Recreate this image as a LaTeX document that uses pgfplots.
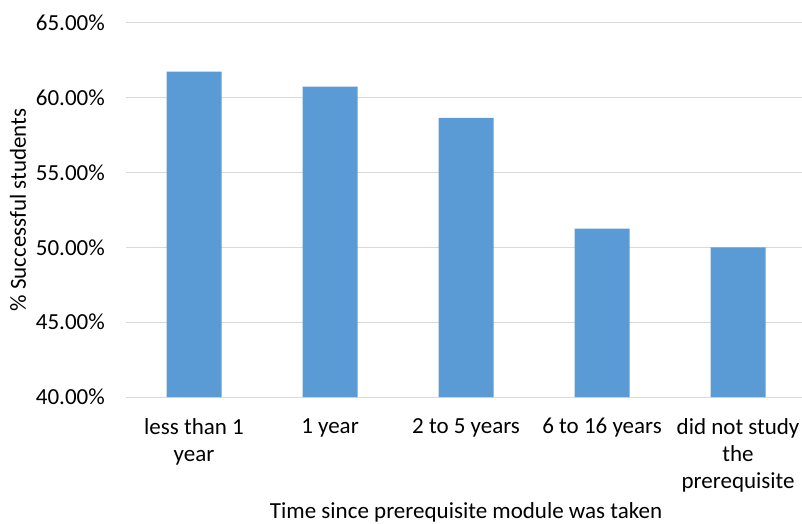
\documentclass[border=0pt]{standalone}
\usepackage{pgfplots}
\pgfplotsset{compat=1.18}
\usepackage{fontspec}
\setmainfont{Carlito}
\definecolor{barblue}{HTML}{5B9BD5}
\definecolor{gridgray}{HTML}{D9D9D9}
\begin{document}
\begin{tikzpicture}
\begin{axis}[
  scale only axis,
  width=676bp, height=374bp,
  xmin=-0.5, xmax=4.47,
  ymin=40, ymax=65,
  ytick={40,45,50,55,60,65},
  yticklabels={40.00\%,45.00\%,50.00\%,55.00\%,60.00\%,65.00\%},
  xtick={0,1,2,3,4},
  xticklabels={{less than 1\\year},{1 year},{2 to 5 years},{6 to 16 years},{did not study\\the\\prerequisite}},
  axis y line*=left,
  y axis line style={draw=none},
  axis x line*=bottom,
  x axis line style={draw=gridgray, line width=1bp},
  axis line style={-},
  ymajorgrids,
  grid style={draw=gridgray, line width=1bp},
  major tick length=0pt,
  tick style={draw=none},
  font=\fontsize{23bp}{27bp}\selectfont,
  yticklabel style={anchor=east, inner sep=0pt, xshift=-21bp},
  xticklabel style={align=center, anchor=north, inner sep=0pt, yshift=-21bp},
  ylabel={\% Successful students},
  ylabel style={at={([xshift=-108bp]axis description cs:0,0.5)}, anchor=center},
  xlabel={Time since prerequisite module was taken},
  xlabel style={at={(axis cs:2,40)}, anchor=base, yshift=-121bp, inner sep=0pt},
  clip=false,
]
\addplot[ybar, bar width=55bp, fill=barblue, draw=none] coordinates {
  (0,61.75) (1,60.75) (2,58.65) (3,51.25) (4,50.0)
};
\coordinate (ll) at (axis cs:-0.5,40);
\end{axis}
\pgfresetboundingbox
\path ([xshift=-126bp,yshift=-127bp]ll) rectangle ++(802bp,524bp);
\end{tikzpicture}
\end{document}
